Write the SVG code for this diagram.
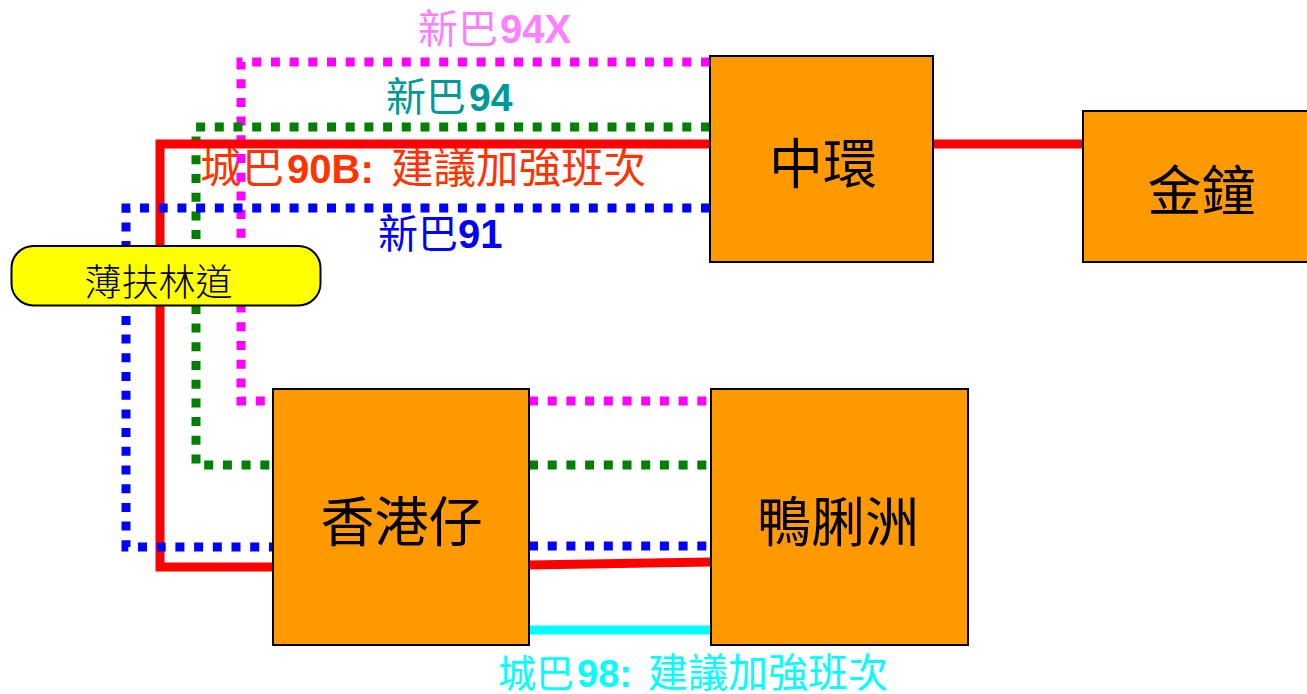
<svg xmlns="http://www.w3.org/2000/svg" width="1307" height="694" viewBox="0 0 1307 694">
<style>
.ln{fill:none;stroke-width:9;stroke-linejoin:miter;stroke-linecap:butt}
.dot{stroke-dasharray:9 9.7}
.box{fill:#FF9900;stroke:#000;stroke-width:2}
.nt{font-family:"Noto Sans CJK TC","Noto Sans CJK SC",sans-serif;font-size:54px;fill:#000;text-anchor:middle}
.lb{font-family:"Noto Sans CJK TC","Noto Sans CJK SC",sans-serif;font-size:40px}
.lat{font-family:"Liberation Sans",Arial,sans-serif;font-weight:bold;font-size:40px}
</style>
<rect width="1307" height="694" fill="#fff"/>
<g id="labels">
<text class="lb" x="418" y="43" fill="#FF80FF">新巴<tspan class="lat" x="500">94X</tspan></text>
<text class="lb" x="386" y="111" fill="#009999">新巴<tspan class="lat" x="469" style="font-size:39px">94</tspan></text>
<text class="lb" x="200" y="183" fill="#FF3300" style="font-size:42px">城巴<tspan class="lat" x="287">90B:</tspan><tspan x="391" style="font-size:42.5px">建議加強班次</tspan></text>
<text class="lb" x="378" y="248" fill="#0000FF">新巴<tspan class="lat">91</tspan></text>
<text class="lb" x="498" y="687" fill="#00FFFF" style="font-size:38px">城巴<tspan class="lat" x="577" style="font-size:38px">98:</tspan><tspan x="648" style="font-size:40px">建議加強班次</tspan></text>
</g>
<g id="connectors">
<path class="ln dot" stroke="#FF00FF" d="M710,62 H241 V401 H273 M529,401 H711"/>
<path class="ln dot" stroke="#008000" d="M710,127 H196 V465 H273 M529,465 H711"/>
<path class="ln" stroke="#FF0000" d="M710,144 H160 V567 H273 M529,565 L711,562 M933,144 H1083"/>
<path class="ln dot" stroke="#0000FF" d="M710,208 H126 V547 H273 M529,546 H711"/>
<path class="ln" stroke="#00FFFF" d="M529,630 H711"/>
</g>
<g id="node-pokfulam">
<rect x="11.5" y="246" width="309" height="59.5" rx="22" fill="#FFFF00" stroke="#000" stroke-width="2"/>
<text x="158.5" y="296" style="font-family:'Noto Sans CJK TC','Noto Sans CJK SC',sans-serif;font-size:37px;font-weight:300" text-anchor="middle" fill="#000">薄扶林道</text>
</g>
<g id="node-central">
<rect class="box" x="710" y="56" width="223" height="206"/>
<text class="nt" x="823" y="184">中環</text>
</g>
<g id="node-admiralty">
<rect class="box" x="1083" y="111" width="240" height="151"/>
<text class="nt" x="1201.5" y="211">金鐘</text>
</g>
<g id="node-aberdeen">
<rect class="box" x="273" y="389" width="256" height="256"/>
<text class="nt" x="401.5" y="542">香港仔</text>
</g>
<g id="node-aplichau">
<rect class="box" x="711" y="389" width="257" height="256"/>
<text class="nt" x="838" y="542">鴨脷洲</text>
</g>
</svg>
